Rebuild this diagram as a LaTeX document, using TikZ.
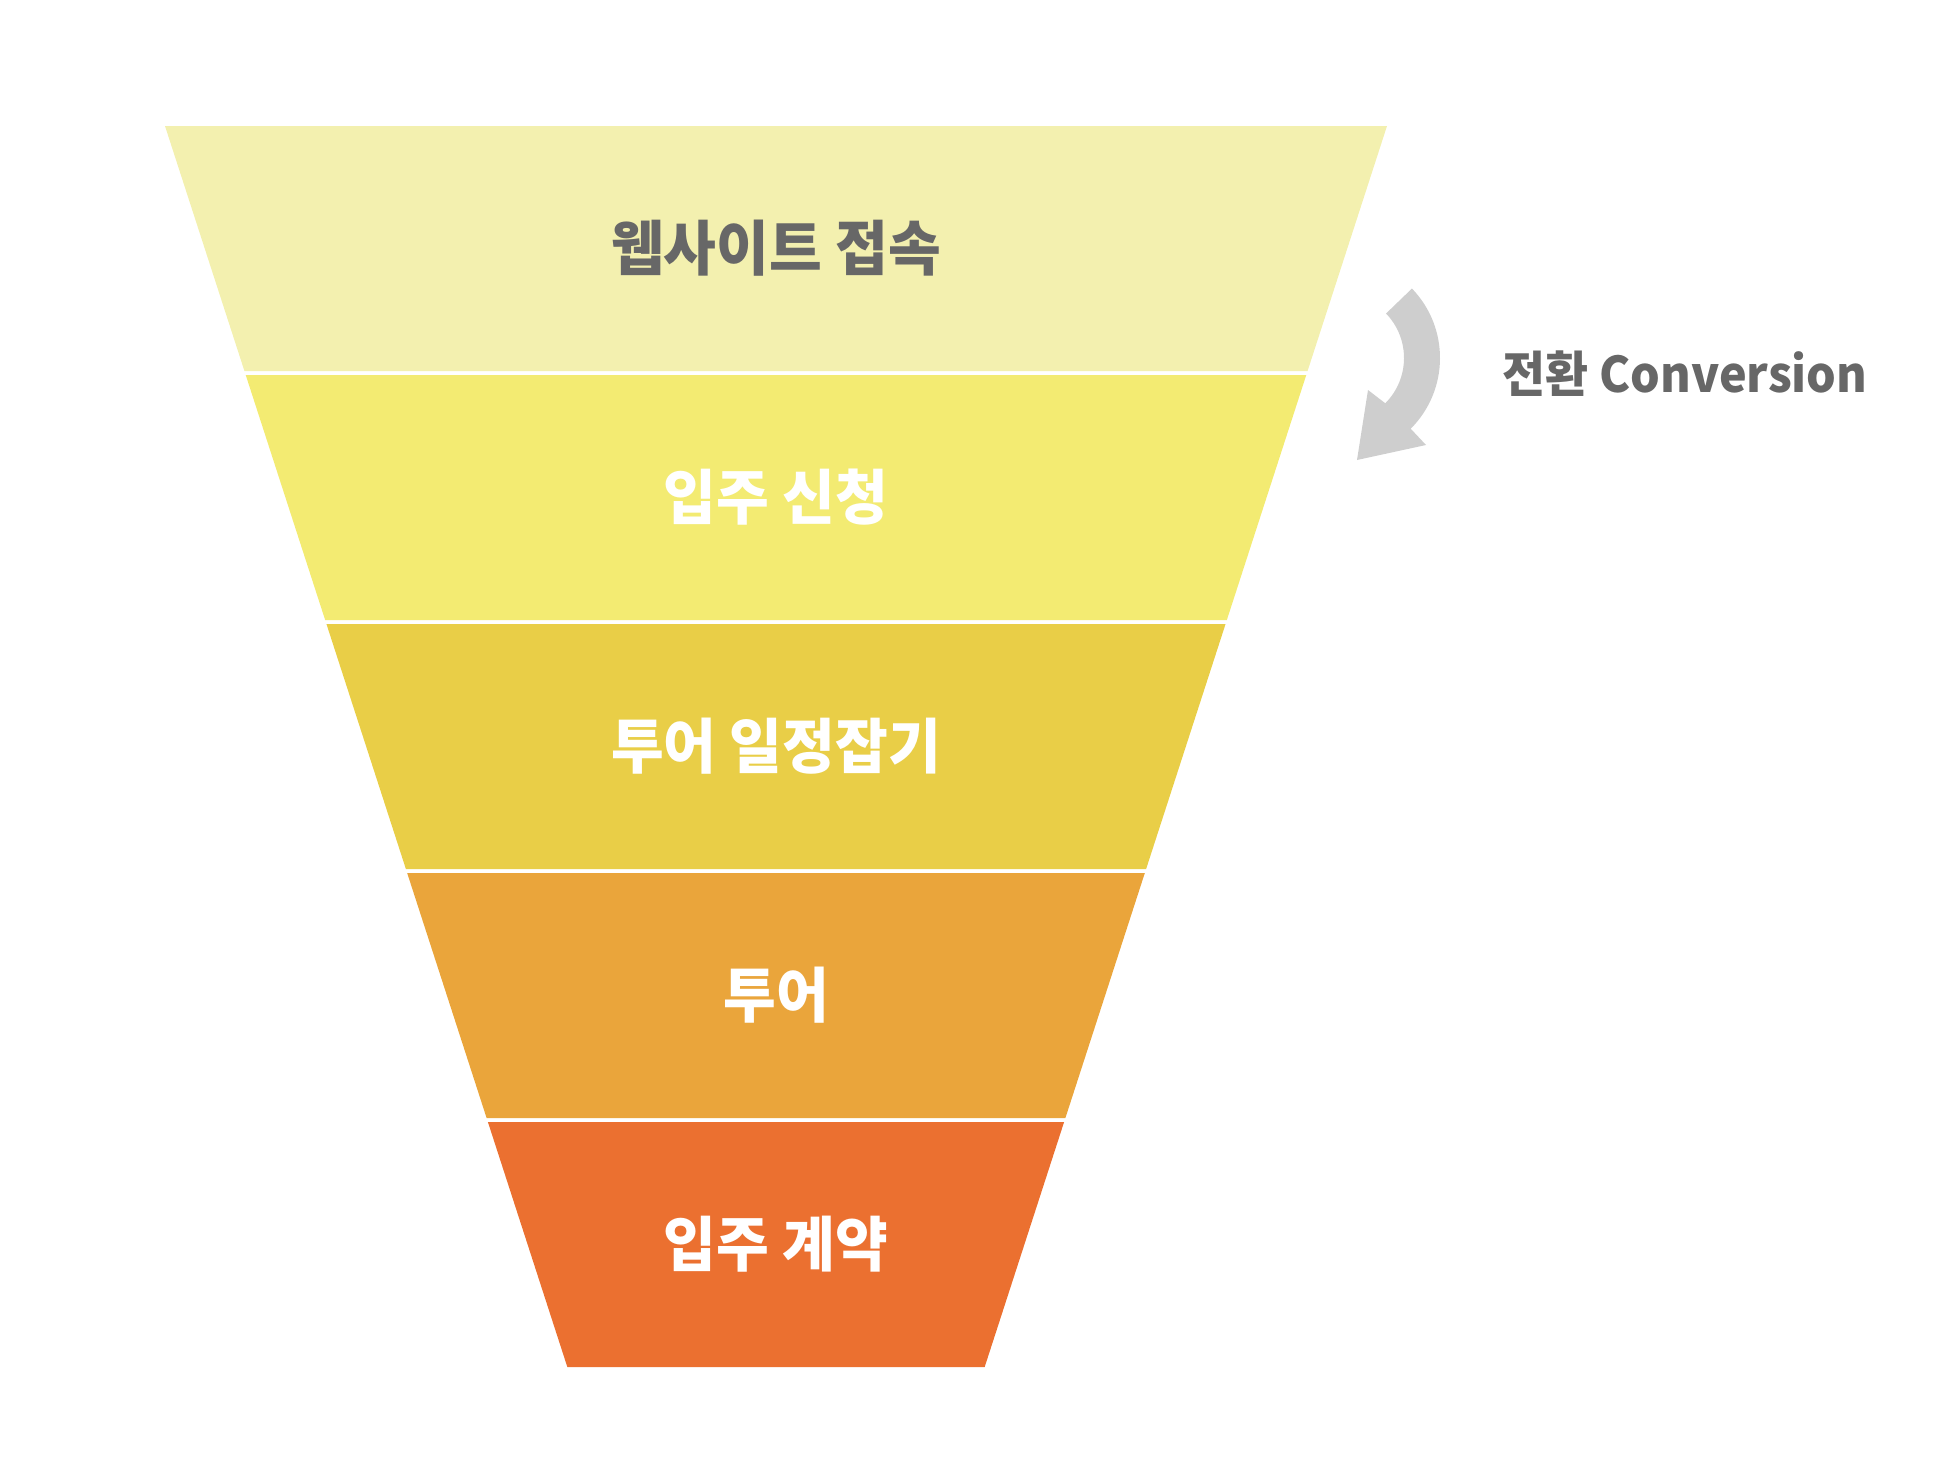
\documentclass[tikz,border=0pt]{standalone}
\usepackage{fontspec}
\usetikzlibrary{calc}
\newfontfamily\krfont{Noto Sans CJK KR}[FakeStretch=0.96]
\newfontfamily\krlabel{Noto Sans CJK KR}[FakeStretch=0.95]
\definecolor{stageA}{HTML}{F3F0AF}
\definecolor{stageB}{HTML}{F3EB72}
\definecolor{stageC}{HTML}{E9CE47}
\definecolor{stageD}{HTML}{EAA53B}
\definecolor{stageE}{HTML}{EB7030}
\definecolor{textgray}{HTML}{676767}
\definecolor{arrowgray}{HTML}{CECECE}
\begin{document}
\begin{tikzpicture}[line cap=round,line join=round,x=0.1mm,y=-0.1mm]
\useasboundingbox (0,0) rectangle (1946,1468);
\foreach \i/\col/\tcol/\txt in {0/stageA/textgray/웹사이트 접속,1/stageB/white/입주 신청,2/stageC/white/투어 일정잡기,3/stageD/white/투어,4/stageE/white/입주 계약}
{
\pgfmathsetmacro{\yt}{126+249*\i}
\pgfmathsetmacro{\yb}{\yt+245}
\pgfmathsetmacro{\wt}{611-0.3242*(\yt-126)}
\pgfmathsetmacro{\wb}{611-0.3242*(\yb-126)}
\fill[\col] (776-\wt,\yt) -- (776+\wt,\yt) -- (776+\wb,\yb) -- (776-\wb,\yb) -- cycle;
\node[text=\tcol,font=\fontsize{17}{20}\krfont\bfseries] (stage\i) at (776,\yt+122.5) {\txt};
}
\coordinate (turn) at (1340,358);
\fill[arrowgray] (turn) ++(-44:100) arc[start angle=-44,end angle=45,radius=100] -- (1426,445) -- (1357,460) -- (1368,390) -- ($(turn)+(45:64)$) arc[start angle=45,end angle=-44,radius=64] -- cycle;
\node[text=textgray,font=\fontsize{14}{17}\krlabel\bfseries,anchor=west,inner sep=0pt] (conv) at (1502,374) {전환 Conversion};
\end{tikzpicture}
\end{document}
